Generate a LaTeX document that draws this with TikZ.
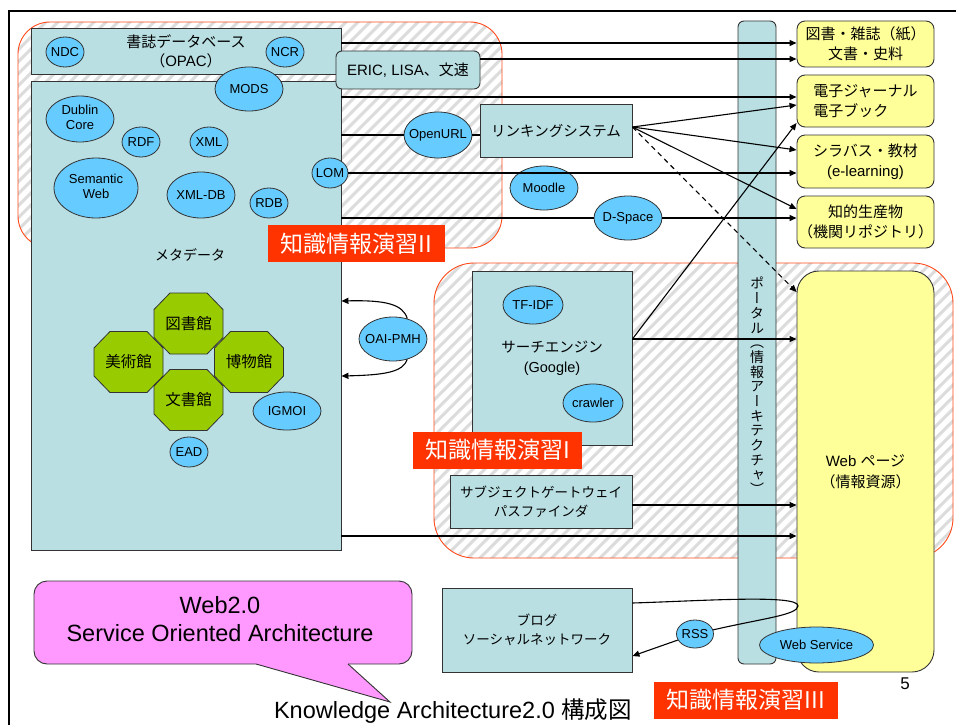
\documentclass[tikz,border=0pt]{standalone}
\usepackage{fontspec}
\setmainfont{Liberation Sans}
\newfontfamily\jp{Noto Sans CJK JP}
\newfontfamily\jpvert[RawFeature=+vert]{Noto Sans CJK JP}
\usetikzlibrary{arrows.meta,shapes.geometric}

\definecolor{boxblue}{HTML}{B9DFE3}
\definecolor{skyblue}{HTML}{66CCFF}
\definecolor{paleyellow}{HTML}{FFFF99}
\definecolor{octgreen}{HTML}{99CC00}
\definecolor{pinkfill}{HTML}{FF99FF}
\definecolor{tagred}{HTML}{FF3300}
\definecolor{zonered}{HTML}{FF4A1A}
\definecolor{edgegray}{HTML}{333333}
\definecolor{hatchgray}{HTML}{DCDCDC}

\newcommand\fs[2]{\fontsize{#1}{#2}\selectfont}
\newcommand\J[1]{{\jp #1}}
\newcommand\zw[1]{\makebox[0pt]{#1}}
\newcommand\twolines[2]{\makebox[0pt]{\begin{tabular}{@{}c@{}}#1\\#2\end{tabular}}}
% octagon with a text node at its centre: name, centre, text
\newcommand\octnode[3]{%
  \begin{scope}[shift={(#2)}]
    \filldraw[octfill] (-18.5,-30.5) -- (18.5,-30.5) -- (34.5,-14) -- (34.5,14)
      -- (18.5,30.5) -- (-18.5,30.5) -- (-34.5,14) -- (-34.5,-14) -- cycle;
  \end{scope}
  \node[octtext] (#1) at (#2) {#3};}

\begin{document}
\begin{tikzpicture}[x=1pt,y=-1pt,
  bluebox/.style={draw=edgegray, fill=boxblue, line width=0.9pt, inner sep=0pt,
    align=center, font=\fs{15}{19}},
  ybox/.style={draw=edgegray, fill=paleyellow, line width=0.9pt, rounded corners=8pt,
    inner sep=0pt, minimum width=137pt, align=center, font=\fs{15}{20}},
  ell/.style 2 args={ellipse, draw=edgegray, fill=skyblue, line width=0.8pt,
    inner sep=0pt, minimum width=#1, minimum height=#2, font=\fs{13}{15.5}},
  octfill/.style={draw=edgegray, fill=octgreen, line width=0.8pt},
  octtext/.style={inner sep=0pt, font=\jp\fs{15.5}{18}},
  conn/.style={line width=1.1pt},
  arr/.style={conn, -{Triangle[length=7pt,width=6pt]}},
  hatch/.style={draw=hatchgray, line width=3pt},
  zone/.style={draw=zonered, line width=0.9pt},
  tag/.style={fill=tagred, text=white, inner sep=0pt, minimum height=37pt,
    font=\jp\fs{23}{26}},
  outline/.style={draw=edgegray, line width=0.9pt}]
\useasboundingbox (0,0) rectangle (956,725);

% slide frame
\draw[line width=2pt] (8.5,725) -- (8.5,11) -- (956,11);

% hatched course zones
\begin{scope}
  \clip[rounded corners=32pt] (18,22) rectangle (502,248);
  \foreach \i in {-252,-240,...,504} \draw[hatch] (\i,260) -- (\i+260,0);
\end{scope}
\draw[zone, rounded corners=32pt] (18,22) rectangle (502,248);
\begin{scope}
  \clip[rounded corners=40pt] (434,263) rectangle (953,558);
  \foreach \i in {108,120,...,960} \draw[hatch] (\i,570) -- (\i+320,250);
\end{scope}
\draw[zone, rounded corners=40pt] (434,263) rectangle (953,558);

% boxes
\node[bluebox, minimum width=310pt, minimum height=46pt] (opac) at (186,51)
  {\J{書誌データベース}\\\J{（}OPAC\J{）}};
\node[bluebox, minimum width=310pt, minimum height=469pt] (meta) at (186,315.5) {};
\node[font=\jp\fs{14}{16}] (metalabel) at (190,255) {メタデータ};
\node[bluebox, rounded corners=6pt, minimum width=144pt, minimum height=38pt]
  (eric) at (408,70) {ERIC, LISA\J{、文速}};
\node[bluebox, minimum width=152pt, minimum height=53pt, font=\fs{14.5}{18}]
  (link) at (556,130.5) {\J{リンキングシステム}};
\node[bluebox, minimum width=160pt, minimum height=174pt, font=\fs{14.5}{20}]
  (se) at (552,358) {\J{サーチエンジン}\\(Google)};
\node[bluebox, minimum width=182pt, minimum height=53pt, font=\fs{13.5}{19}]
  (sg) at (541,501.5) {\J{サブジェクトゲートウェイ}\\\J{パスファインダ}};
\node[bluebox, minimum width=190pt, minimum height=84pt, font=\fs{13.5}{18.5}]
  (blog) at (537,630) {\J{ブログ}\\\J{ソーシャルネットワーク}};

\node[ybox, minimum height=46pt] (paper) at (865.5,44)
  {\J{図書・雑誌（紙）}\\\J{文書・史料}};
\node[ybox, minimum height=52pt, align=left] (ej) at (865.5,101)
  {\J{電子ジャーナル}\\\J{電子ブック}};
\node[ybox, minimum height=53pt] (syl) at (865.5,161.5)
  {\J{シラバス・教材}\\(e-learning)};
\node[ybox, minimum height=52pt] (ir) at (865.5,222)
  {\J{知的生産物}\\\J{（機関リポジトリ）}};

\node[bluebox, rounded corners=6pt, minimum width=38pt, minimum height=643pt]
  (portal) at (757,342.5) {};
\node[inner sep=0pt, align=center, font=\jpvert\fs{14}{14.7}] (portaltxt) at (757,386)
  {ポ\\ー\\タ\\ル\\（\\情\\報\\ア\\ー\\キ\\テ\\ク\\チ\\ャ\\）};

\node[ybox, rounded corners=22pt, minimum height=401pt, font=\fs{15}{21}] (web)
  at (865.5,471.5) {Web \J{ページ}\\\J{（情報資源）}};

% institutions
\octnode{lib}{188.5,323.5}{図書館}
\octnode{art}{128.5,362}{美術館}
\octnode{mus}{249,362}{博物館}
\octnode{arc}{188.5,400}{文書館}

% standards and tools
\node[ell={38pt}{30pt}] (ndc) at (65,52) {\zw{NDC}};
\node[ell={38pt}{30pt}] (ncr) at (285,52) {\zw{NCR}};
\node[ell={68pt}{44pt}] (mods) at (249,89) {\zw{MODS}};
\node[ell={68pt}{46pt}] (dc) at (80,119) {\twolines{Dublin}{Core}};
\node[ell={38pt}{30pt}] (rdf) at (141,142) {\zw{RDF}};
\node[ell={38pt}{30pt}] (xml) at (209,142) {\zw{XML}};
\node[ell={84pt}{60pt}] (sw) at (96,188) {\twolines{Semantic}{Web}};
\node[ell={68pt}{46pt}] (xmldb) at (201,195) {\zw{XML-DB}};
\node[ell={38pt}{30pt}] (rdb) at (269,203) {\zw{RDB}};
\node[ell={36pt}{30pt}] (lom) at (330,173) {\zw{LOM}};
\node[ell={68pt}{46pt}] (openurl) at (438,135) {\zw{OpenURL}};
\node[ell={68pt}{44pt}] (moodle) at (544,188) {\zw{Moodle}};
\node[ell={68pt}{44pt}] (dspace) at (628,218) {\zw{D-Space}};
\node[ell={68pt}{44pt}] (oai) at (393,339) {\zw{OAI-PMH}};
\node[ell={68pt}{38pt}] (igmoi) at (287,411) {\zw{IGMOI}};
\node[ell={38pt}{30pt}] (ead) at (189,452) {\zw{EAD}};
\node[ell={60pt}{38pt}] (tfidf) at (533,305) {\zw{TF-IDF}};
\node[ell={60pt}{38pt}] (crawler) at (593,403) {\zw{crawler}};
\node[ell={37pt}{28pt}] (rss) at (695,634) {\zw{RSS}};
\node[ell={114pt}{36pt}] (ws) at (816.5,645) {\zw{Web Service}};

% heights of the horizontal connectors
\foreach \h in {43,59,97,105,123,127,150,209,292,301,339,376,505,536,603,656}
  \coordinate (h\h) at (0,\h);
\coordinate (turn) at (798,606);

% connectors
\draw[arr] (opac.east |- h43) -- (paper.west |- h43);
\draw[arr] (eric.east |- h59) -- (paper.west |- h59);
\draw[arr] (meta.east |- h97) -- (ej.west |- h97);
\draw[conn] (meta.east |- openurl.west) -- (openurl.west);
\draw[conn] (openurl.east) -- (link.west |- openurl.east);
\draw[arr] (link.east |- h127) -- (ej.west |- h105);
\draw[arr] (link.east |- h127) -- (syl.west |- h150);
\draw[arr] (link.east |- h127) -- (ir.west |- h209);
\draw[arr, dash pattern=on 5pt off 4pt] (link.east |- h127) -- (web.west |- h292);
\draw[arr] (lom.east) -- (syl.west |- lom.east);
\draw[conn] (meta.east |- dspace.west) -- (dspace.west);
\draw[arr] (dspace.east) -- (ir.west |- dspace.east);
\draw[arr] (se.east |- h339) -- (web.west |- h339);
\draw[arr] (se.east |- h339) -- (ej.west |- h123);
\draw[arr] (sg.east |- h505) -- (web.west |- h505);
\draw[arr] (meta.east |- h536) -- (web.west |- h536);
\draw[arr] (oai.55) .. controls (403,304) and (385,300) .. (meta.east |- h301);
\draw[arr] (oai.-55) .. controls (403,372) and (385,375) .. (meta.east |- h376);
\draw[conn] (blog.east |- h603) .. controls (700,601) and (799,594) .. (turn)
  .. controls (797,615) and (765,618) .. (rss);
\draw[arr] (rss) -- (blog.east |- h656);

% course labels
\node[tag, minimum width=177pt] (ex2) at (356.5,243.5) {知識情報演習II};
\node[tag, minimum width=169pt] (ex1) at (497.5,450) {知識情報演習I};
\node[tag, minimum width=184pt] (ex3) at (746,700) {知識情報演習III};

% speech bubble
\fill[pinkfill, rounded corners=13pt] (34,581) rectangle (412,664);
\fill[pinkfill] (241.9,660) -- (390,702) -- (343.6,660) -- cycle;
\draw[outline, rounded corners=13pt] (256,664) -- (34,664) -- (34,581) -- (412,581)
  -- (412,664) -- (348,664);
\draw[outline] (256,664) -- (390,702) -- (348,664);
\node[font=\fs{23.5}{28}, align=center] (soa) at (220,619)
  {Web2.0\\Service Oriented Architecture};

\node[font=\fs{23.5}{28}] (title) at (453,711) {Knowledge Architecture2.0 \J{構成図}};
\node[font=\fs{17}{20}] (pageno) at (905,684) {5};
\end{tikzpicture}
\end{document}
